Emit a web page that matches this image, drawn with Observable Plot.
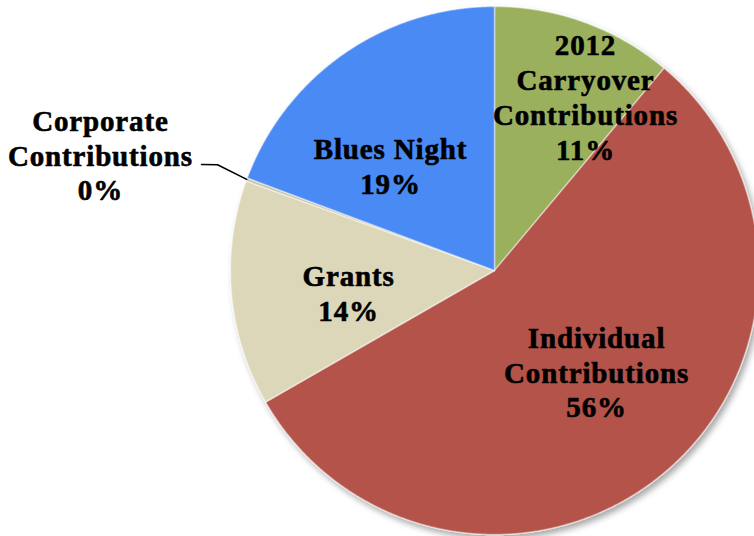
<!DOCTYPE html>
<html><head><meta charset="utf-8">
<script src="https://cdn.jsdelivr.net/npm/d3@7"></script>
<script src="https://cdn.jsdelivr.net/npm/@observablehq/plot@0.6"></script>
<style>body{margin:0;background:#fff}</style>
</head><body><div id="chart"></div>
<script>
// ---- data ----
const categories = ["2012 Carryover Contributions", "Individual Contributions", "Grants", "Corporate Contributions", "Blues Night"];
const labelNames = ["2012\nCarryover\nContributions", "Individual\nContributions", "Grants", "Corporate\nContributions", "Blues Night"];
const shares = [11.1, 55.6, 13.8, 0.2, 19.3];
const colors = ["#9bb05d", "#b4524a", "#dcd7b9", "#c9c4a8", "#4a8af4"];

// ---- layout (label placement in polar terms: angle in degrees from north, radius fraction) ----
const labelPolar = [[27.6, 0.744], [134.7, 0.544], [261.4, 0.559], [286.4, 1.556], [315.3, 0.56]];
const leaderPolar = [[289.9, 1.18], [290.9, 1.123], [290.2, 1.0]];

const toXY = (deg, r) => [r * Math.sin(deg * Math.PI / 180), r * Math.cos(deg * Math.PI / 180)];

const arcs = d3.pie().sort(null).value(d => d)(shares);
const slicePts = [];
arcs.forEach((a, i) => {
  const cat = categories[i];
  slicePts.push({cat, x: 0, y: 0});
  const n = Math.max(2, Math.ceil((a.endAngle - a.startAngle) / 0.005));
  for (let k = 0; k <= n; k++) {
    const t = a.startAngle + (a.endAngle - a.startAngle) * k / n;
    slicePts.push({cat, x: Math.sin(t), y: Math.cos(t)});
  }
  slicePts.push({cat, x: 0, y: 0});
});

const labelData = categories.map((c, i) => {
  const [x, y] = toXY(labelPolar[i][0], labelPolar[i][1]);
  return {x, y, text: labelNames[i] + "\n" + Math.round(shares[i]) + "%"};
});
const leader = leaderPolar.map(([a, r]) => { const [x, y] = toXY(a, r); return {x, y}; });

const W = 754, H = 536;
const cx = 494, cy = 270, R = 264;
const plot = Plot.plot({
  width: W, height: H,
  margin: 0,
  x: {domain: [-cx / R, (W - cx) / R], axis: null},
  y: {domain: [-(H - cy) / R, cy / R], axis: null},
  color: {domain: categories, range: colors},
  marks: [
    Plot.line(slicePts, {x: "x", y: "y", z: "cat", fill: "cat", stroke: "#ffffff", strokeOpacity: 0.45, strokeWidth: 1.5, strokeLinejoin: "round"}),
    Plot.line(leader, {x: "x", y: "y", stroke: "#000", strokeWidth: 1.5}),
    Plot.text(labelData, {x: "x", y: "y", text: "text", fontSize: 29, fontWeight: "bold", fill: "#000", stroke: "#000", strokeWidth: 0.6, lineHeight: 1.2, lineAnchor: "middle", textAnchor: "middle"})
  ]
});
const svg = d3.select(plot);
svg.style("font-family", "'Liberation Serif', serif").style("letter-spacing", "0.85px").style("overflow", "visible");
const defs = svg.insert("defs", ":first-child");
const f = defs.append("filter").attr("id", "shadow").attr("x", "-10%").attr("y", "-10%").attr("width", "130%").attr("height", "130%");
f.append("feDropShadow").attr("dx", 3).attr("dy", 4).attr("stdDeviation", 3).attr("flood-color", "#000").attr("flood-opacity", 0.35);
svg.select("g[aria-label=line]").attr("filter", "url(#shadow)");
document.getElementById("chart").appendChild(plot);
</script>
</body></html>
